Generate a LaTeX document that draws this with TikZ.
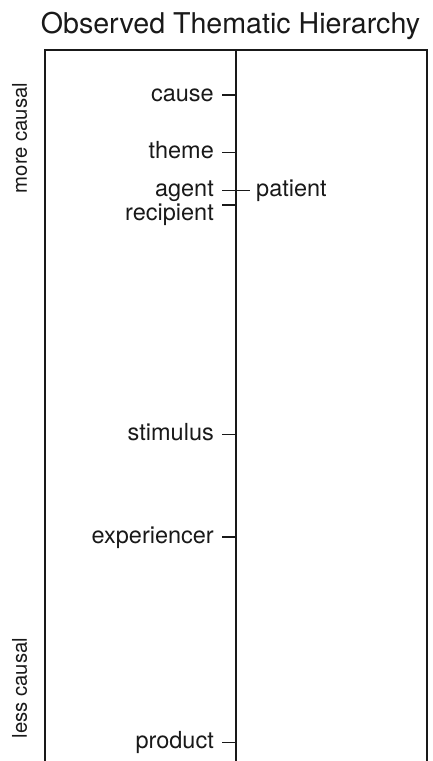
\documentclass[tikz,border=0pt]{standalone}
\usepackage{fontspec}
\setmainfont{TeX Gyre Heros}
\begin{document}
\begin{tikzpicture}[x=1pt,y=-1pt,
  frame/.style={line width=2pt, black!90},
  tick/.style={line width=1.6pt, black!90},
  role/.style={font=\fontsize{23.5}{26}\selectfont, inner sep=0pt, text=black!90},
  side/.style={font=\fontsize{20.3}{24}\selectfont, inner sep=0pt, rotate=90, anchor=base, text=black!90},
  title/.style={font=\fontsize{28.6}{32}\selectfont, inner sep=0pt, text=black!90}]
\useasboundingbox (0,0) rectangle (432,761);

% title
\node[title, anchor=base] (title) at (230.5,33) {Observed Thematic Hierarchy};

% frame: open at the bottom, with the central axis
\coordinate (tl) at (45,50);
\coordinate (tr) at (427,50);
\coordinate (bl) at (45,761);
\coordinate (br) at (427,761);
\coordinate (axtop) at (236,50);
\coordinate (axbot) at (236,761);
\draw[frame] (bl) -- (tl) -- (tr) -- (br);
\draw[frame] (axtop) -- (axbot);

% side captions (baseline toward the frame)
\node[side] (more) at (27,138) {more causal};
\node[side] (less) at (27,688) {less causal};

% roles on the left of the axis; labels centred on their tick by x-height
\def\xh{6.1}
\foreach \name/\txt/\y in {cause/cause/95, theme/theme/152.5, agent/agent/190.5,
                           stim/stimulus/434.5, exper/experiencer/537, prod/product/742.5}{
  \coordinate (\name-t) at (222,\y);
  \coordinate (\name-a) at (236,\y);
  \draw[tick] (\name-t) -- (\name-a);
  \node[role, anchor=base east] (\name) at (214,\y+\xh) {\txt};
}

% recipient sits just under agent, its label shifted down
\coordinate (recip-t) at (222,205);
\coordinate (recip-a) at (236,205);
\draw[tick] (recip-t) -- (recip-a);
\node[role, anchor=base east] (recip) at (214,220) {recipient};

% patient on the right of the axis
\coordinate (pat-a) at (236,190.5);
\coordinate (pat-t) at (250,190.5);
\draw[tick] (pat-a) -- (pat-t);
\node[role, anchor=base west] (pat) at (256,190.5+\xh) {patient};
\end{tikzpicture}
\end{document}
